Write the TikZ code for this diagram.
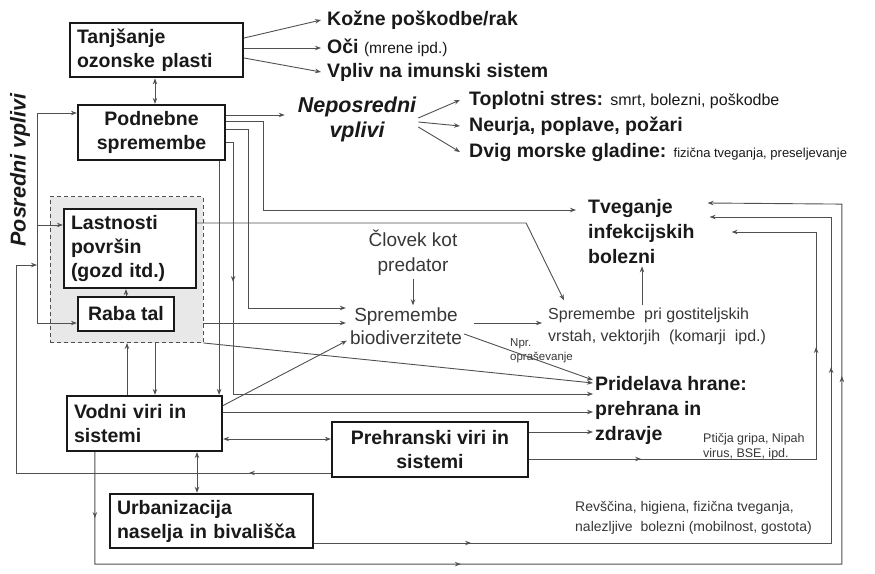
\documentclass[tikz,border=0pt]{standalone}
\usepackage{fontspec}
\setmainfont{Liberation Sans}
\usetikzlibrary{arrows.meta,positioning,decorations.markings}
\definecolor{ink}{RGB}{25,25,25}
\definecolor{wire}{RGB}{80,80,80}
\definecolor{soft}{RGB}{55,55,55}
\definecolor{shade}{RGB}{232,232,232}

\begin{document}
\begin{tikzpicture}[
    x=1pt, y=-1pt,
    >={Stealth[length=6pt,width=4.5pt]},
    every node/.style={text=ink, inner sep=2pt},
    factor/.style={rectangle, draw=ink, line width=2.2pt, fill=white, inner sep=6pt,
                 font=\fontsize{19.5}{24}\selectfont\bfseries},
    landbox/.style={rectangle, draw=wire, line width=0.9pt, dash pattern=on 4pt off 3pt, fill=shade},
    effect/.style={anchor=west, align=left, font=\fontsize{19.5}{25}\selectfont\bfseries},
    remark/.style={align=left, text=soft},
    arr/.style={->, wire, line width=0.9pt},
    arrs/.style={<->, wire, line width=0.9pt},
    ln/.style={wire, line width=0.9pt},
    midarr/.style={postaction={decorate, decoration={markings, mark=at position #1 with {\arrow{>}}}}}
  ]
    \useasboundingbox (0,0) rectangle (875,573);

    % dashed group round land use
    \node[landbox, minimum width=153pt, minimum height=146pt] (tal) at (126.5,269.5) {};

    % factors
    \node[factor, minimum width=173pt, minimum height=54pt, text width=159pt, align=left] (ozon) at (156.5,50) {Tanjšanje\\ozonske plasti};
    \node[factor, minimum width=147pt, minimum height=55pt, align=center] (podn) at (151.5,132.5) {Podnebne\\spremembe};
    \node[factor, minimum width=132pt, minimum height=79pt, text width=118pt, align=left] (last) at (130,248.5) {Lastnosti\\površin\\(gozd itd.)};
    \node[factor, minimum width=96pt, minimum height=34pt] (raba) at (126,314) {Raba tal};
    \node[factor, minimum width=155pt, minimum height=55pt, text width=141pt, align=left] (vodni) at (144.5,423.5) {Vodni viri in\\sistemi};
    \node[factor, minimum width=196pt, minimum height=55pt, align=center] (preh) at (430,449.5) {Prehranski viri in\\sistemi};
    \node[factor, minimum width=203pt, minimum height=54pt, text width=189pt, align=left] (urb) at (211.5,521) {Urbanizacija\\naselja in bivališča};

    % effects
    \node[effect] (koz) at (325,20) {Kožne poškodbe/rak};
    \node[effect] (oci) at (325,48) {Oči {\mdseries\fontsize{15.5}{18}\selectfont(mrene ipd.)}};
    \node[effect] (imu) at (325,72) {Vpliv na imunski sistem};
    \node[font=\fontsize{21.5}{25}\selectfont\bfseries\itshape, align=center] (nep) at (357,119) {Neposredni\\vplivi};
    \node[effect] (topl) at (467,100) {Toplotni stres: {\mdseries\fontsize{16}{19}\selectfont smrt, bolezni, poškodbe}};
    \node[effect] (neu) at (467,126) {Neurja, poplave, požari};
    \node[effect] (dvig) at (467,152) {Dvig morske gladine: {\mdseries\fontsize{13}{16}\selectfont fizična tveganja, preseljevanje}};
    \node[effect] (tveg) at (586,232) {Tveganje\\infekcijskih\\bolezni};
    \node[effect] (prid) at (593,410) {Pridelava hrane:\\prehrana in\\zdravje};
    \node[font=\fontsize{21.5}{25}\selectfont\bfseries\itshape, rotate=90] (posr) at (20,170) {Posredni vplivi};

    % remarks
    \node[remark, align=center, font=\fontsize{19}{25}\selectfont] (clov) at (413,253) {Človek kot\\predator};
    \node[remark, align=center, font=\fontsize{19}{23}\selectfont] (bio) at (406,326) {Spremembe\\biodiverzitete};
    \node[remark, anchor=west, font=\fontsize{16}{22}\selectfont] (gost) at (546,326) {Spremembe\ \ pri gostiteljskih\\vrstah, vektorjih\ \ (komarji\ \ ipd.)};
    \node[remark, anchor=west, font=\fontsize{11.5}{14}\selectfont] (npr) at (508,351) {Npr.\\opraševanje};
    \node[remark, anchor=west, font=\fontsize{12.5}{15}\selectfont] (ptic) at (701,447) {Ptičja gripa,\ Nipah\\virus, BSE, ipd.};
    \node[remark, anchor=west, font=\fontsize{14}{20}\selectfont] (rev) at (573,518) {Revščina, higiena, fizična tveganja,\\nalezljive\ \ bolezni (mobilnost, gostota)};

    % helper points
    \coordinate (bt) at (37,113);
    \coordinate (bm) at (37,265);
    \coordinate (bb) at (37,323);
    \coordinate (oz1) at ([xshift=3.5pt]podn.north);
    \coordinate (pn) at ([yshift=17.5pt]podn.east);
    \coordinate (nw) at ([xshift=-11pt]nep.west);
    \coordinate (pe1) at ([yshift=11.5pt]podn.east);
    \coordinate (pe2) at ([yshift=3.5pt]podn.east);
    \coordinate (pe3) at ([yshift=-9.5pt]podn.east);
    \coordinate (ps) at ([xshift=-7pt]podn.south east);
    \coordinate (ls) at ([yshift=23.5pt]last.west);
    \coordinate (le) at ([yshift=25.5pt]last.east);
    \coordinate (gn) at ([xshift=18pt,yshift=5pt]gost.north west);
    \coordinate (gt) at ([xshift=96pt]gost.north west);
    \coordinate (bi1) at ([xshift=-2pt,yshift=18pt]bio.west);
    \coordinate (bi2) at ([xshift=-2pt,yshift=3pt]bio.west);
    \coordinate (bi3) at ([xshift=-1pt,yshift=6pt]bio.south west);
    \coordinate (be) at ([yshift=-8pt]bio.east);
    \coordinate (pr0) at ([yshift=30pt]prid.west);
    \coordinate (pr1) at ([yshift=27pt]prid.west);
    \coordinate (pr2) at ([yshift=16pt]prid.west);
    \coordinate (tv0) at ([xshift=-10pt,yshift=22pt]tveg.west);
    \coordinate (tv1) at ([xshift=11pt,yshift=29pt]tveg.east);
    \coordinate (tv2) at ([xshift=13pt,yshift=15pt]tveg.east);
    \coordinate (tv3) at ([xshift=35pt]tveg.east);
    \coordinate (vt1) at ([xshift=-17.5pt]vodni.north);
    \coordinate (vt2) at ([xshift=10.5pt]vodni.north);
    \coordinate (vd) at ([yshift=18pt]vodni.east);
    \coordinate (ve) at ([yshift=11.5pt]vodni.east);
    \coordinate (vp) at ([yshift=-15.5pt]vodni.east);
    \coordinate (vb) at ([xshift=29pt]vodni.south west);
    \coordinate (hp) at ([yshift=17.5pt]preh.east);
    \coordinate (he) at ([yshift=-9.5pt]preh.east);
    \coordinate (hw) at ([yshift=-23.5pt]preh.west);
    \coordinate (uv) at ([xshift=-14.5pt]urb.north);
    \coordinate (ue) at ([yshift=-22pt]urb.east);

    % ozone
    \draw[arr] ([yshift=12pt]ozon.east) -- ([xshift=-4pt]koz.west);
    \draw[arr] ([yshift=2pt]ozon.east) -- ([xshift=-4pt]oci.west);
    \draw[arr] ([yshift=-8pt]ozon.east) -- ([xshift=-4pt]imu.west);
    \draw[arrs] (oz1) -- (oz1 |- ozon.south);

    % direct effects
    \draw[arr] (pn) -- (pn -| nw);
    \draw[arr] ([yshift=1pt]nep.east) -- ([xshift=-7pt]topl.west);
    \draw[arr] ([yshift=-3pt]nep.east) -- ([xshift=-7pt]neu.west);
    \draw[arr] ([yshift=-8pt]nep.east) -- ([xshift=-7pt]dvig.west);

    % indirect effects
    \draw[ln] (bt) -- (bb);
    \draw[arr] (bt) -- (bt -| podn.west);
    \draw[arr] (ls -| bt) -- (ls);
    \draw[arr] (bb) -- (bb -| raba.west);
    \draw[arr] (raba.north) -- (raba.north |- last.south);

    % from climate change
    \draw[arr] (pe1) -- ++(37,0) |- (tv0);
    \draw[arr] (pe2) -- ++(22,0) |- (bi1);
    \draw[arr, midarr=147pt] (pe3) -- ++(7,0) |- (pr2);
    \draw[arr] (ps) -- (ps |- vodni.north);

    % land use
    \draw[arr] (le) -- ++(329,0) -- (gn);
    \draw[arr] (bi2 -| tal.east) -- (bi2);
    \draw[arr] (tal.south east) -- (pr1);
    \draw[arr] (vt1) -- (vt1 |- tal.south);
    \draw[arr] (vt2 |- tal.south) -- (vt2);

    % biodiversity
    \draw[arr] ([yshift=-1pt]clov.south) -- (clov.south |- bio.north);
    \draw[arr] ([xshift=10pt,yshift=3pt]bio.east) -- ([xshift=-4pt,yshift=3pt]gost.west);
    \draw[arr] (be) -- (pr0);
    \draw[arr] (gt) -- (gt |- tveg.south);

    % water, food, settlements
    \draw[arr] (vd) -- (bi3);
    \draw[arr] (ve) -- (ve -| prid.west);
    \draw[arrs] (vp) -- (vp -| preh.west);
    \draw[arr] (hp) -- (hp -| prid.west);
    \draw[arrs] (uv) -- (uv |- vodni.south);
    \draw[arr, midarr=82pt] (hw) -| ([xshift=-21pt]bm) -- (bm);
    \draw[arr, midarr=112pt, midarr=399pt] (he) -- ++(287,0) |- (tv3);
    \draw[arr, midarr=157pt, midarr=693pt] (ue) -- ++(517,0) |- (tv2);
    \draw[arr, midarr=66pt, midarr=478pt, midarr=1047pt] (vb) -- ++(0,112) -| ++(747,-360) -- (tv1);
\end{tikzpicture}
\end{document}
